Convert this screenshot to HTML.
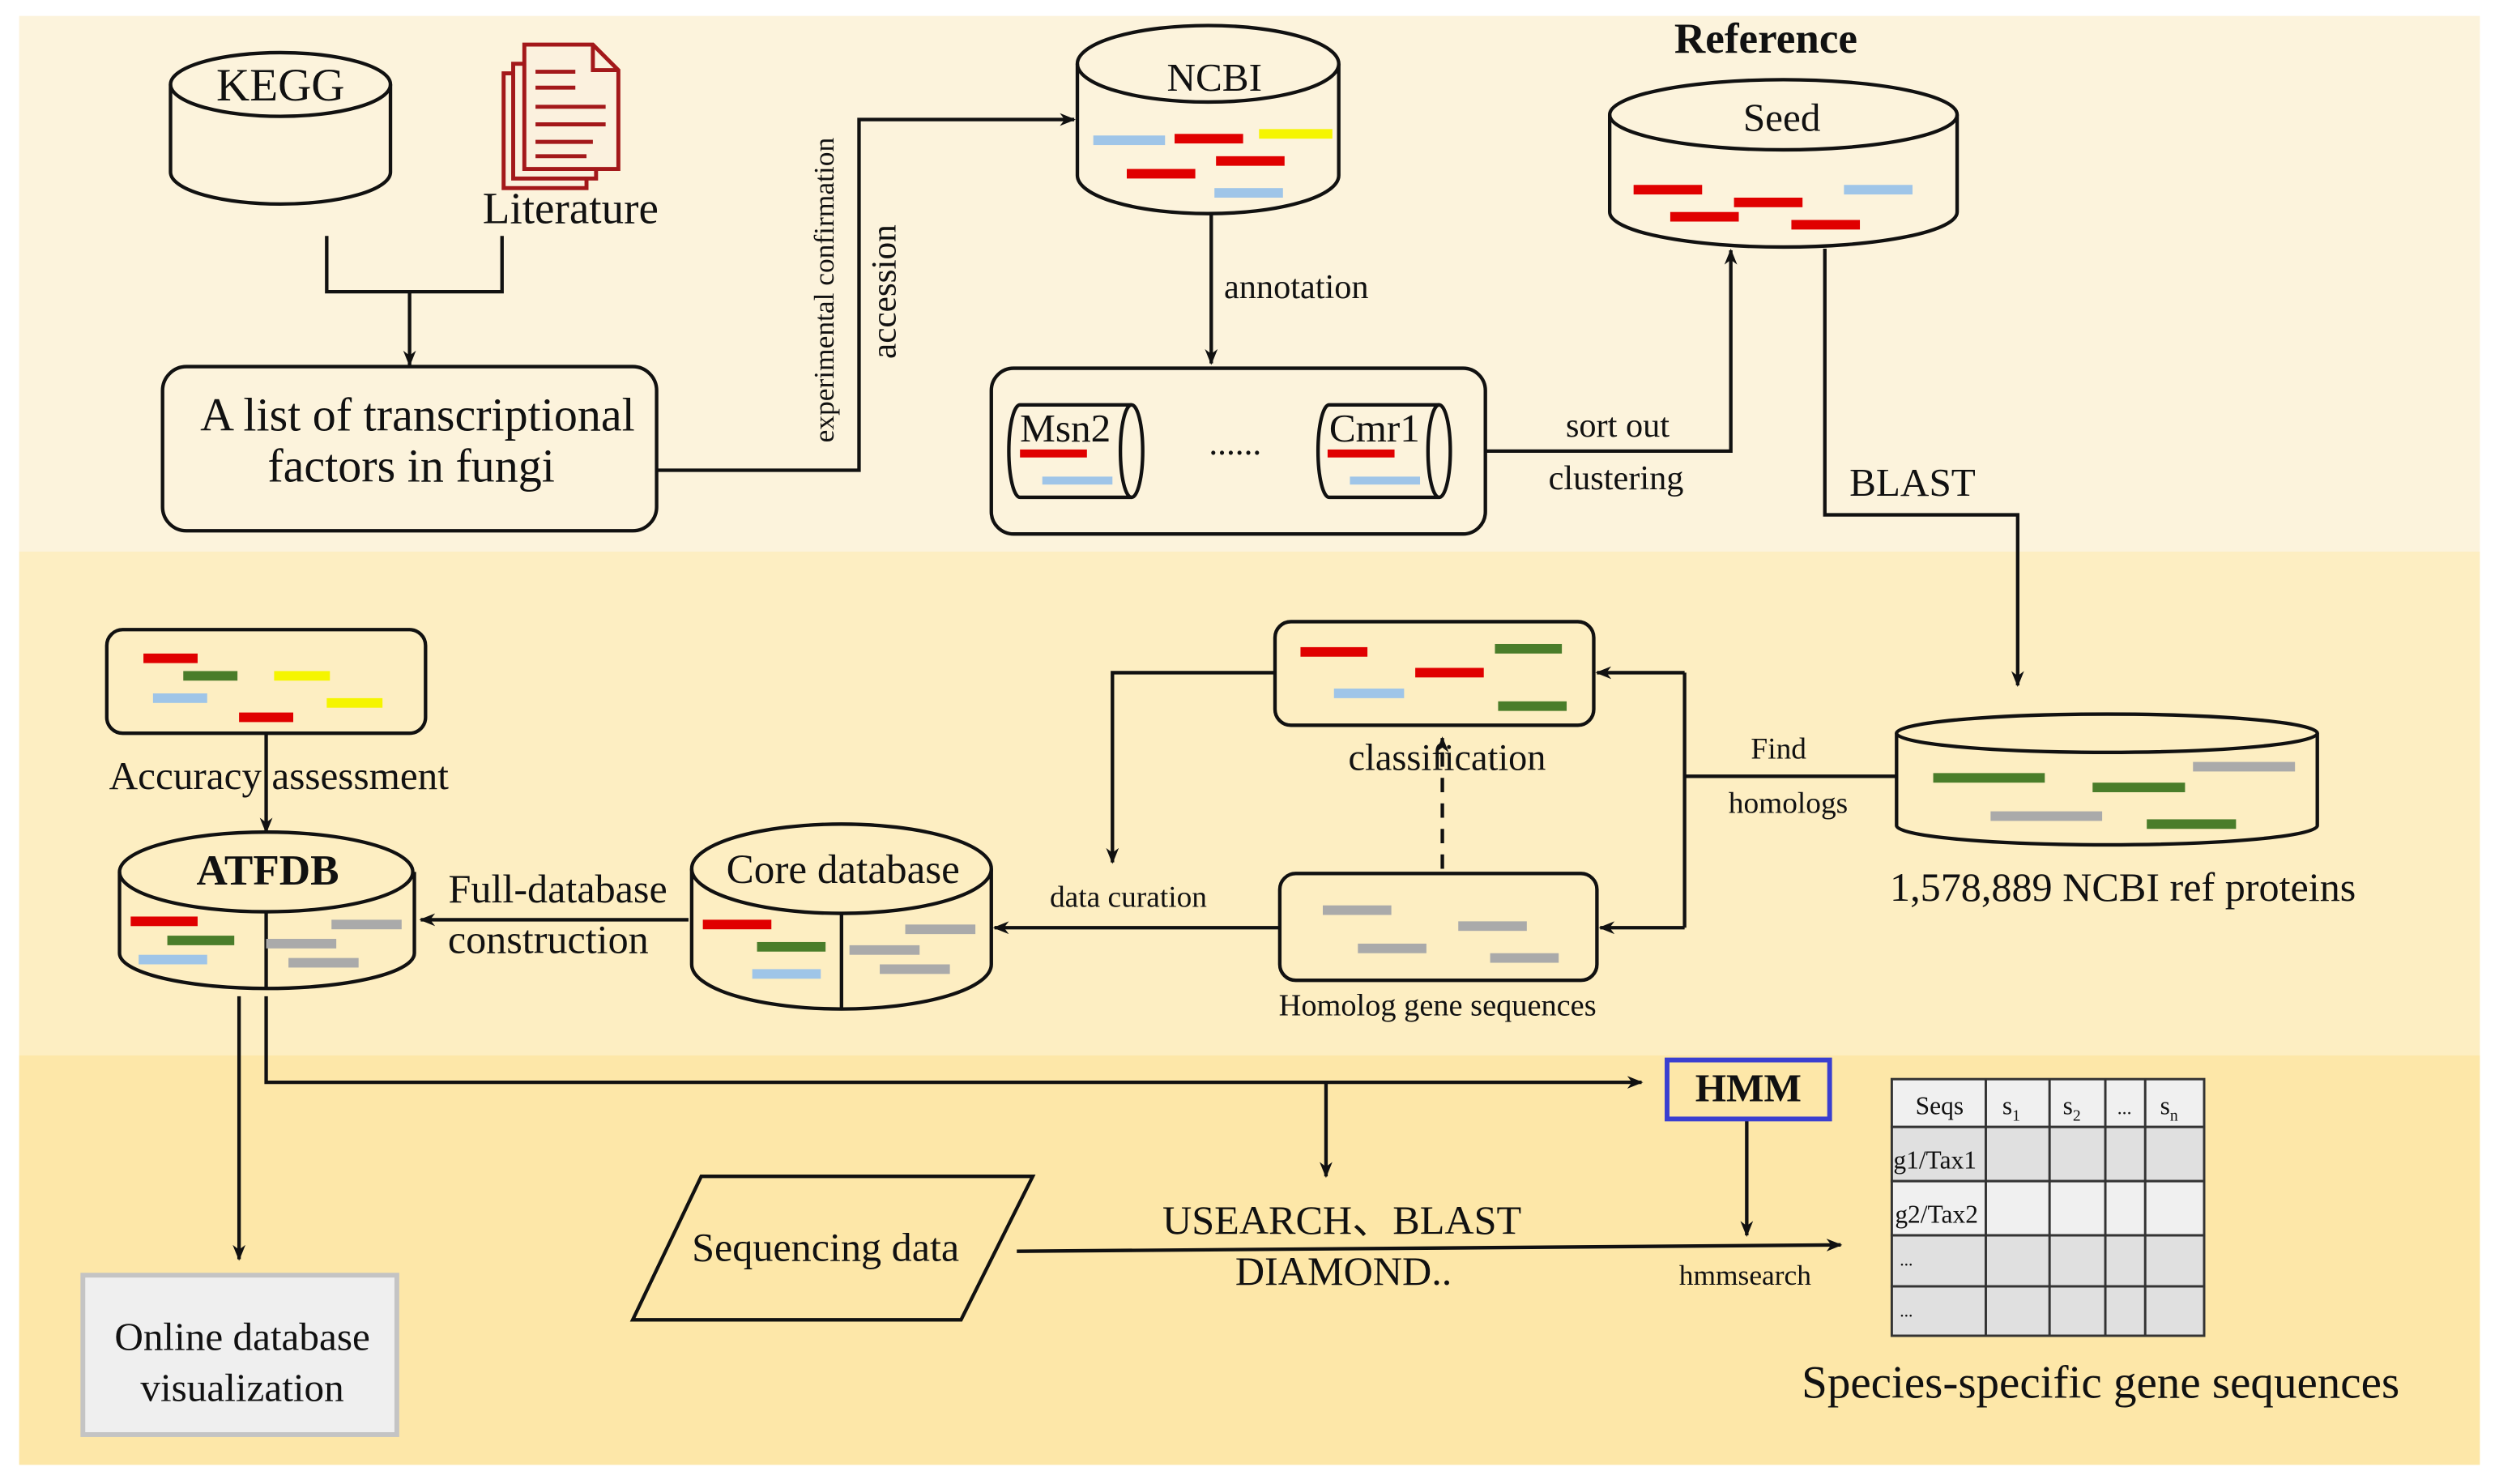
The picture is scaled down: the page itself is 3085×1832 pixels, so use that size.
<!DOCTYPE html>
<html><head><meta charset="utf-8"><style>
html,body{margin:0;padding:0;background:#fff}
svg{display:block}
text{font-family:"Liberation Serif",serif;fill:#111}
</style></head><body>
<svg width="3085" height="1832" viewBox="0 0 1568 931" preserveAspectRatio="none" xmlns="http://www.w3.org/2000/svg">
<defs>
<marker id="a" markerWidth="10" markerHeight="10" refX="9" refY="5" orient="auto" markerUnits="userSpaceOnUse"><path d="M0,1 L10,5 L0,9 L3,5 z" fill="#111"/></marker>
</defs>
<rect x="0" y="0" width="1568" height="931" fill="#fff"/>
<rect x="12" y="10" width="1544" height="336" fill="#fcf3dc"/>
<rect x="12" y="346" width="1544" height="316" fill="#fdeec2"/>
<rect x="12" y="662" width="1544" height="257" fill="#fde7a8"/>
<g stroke="#111" stroke-width="2.2" fill="none">
<path d="M107,53 V108 A69,20 0 0 0 245,108 V53"/>
<ellipse cx="176" cy="53" rx="69" ry="20"/>
<path d="M205,148 V183 H315 V148"/>
<path d="M257,183 V229" marker-end="url(#a)"/>
<rect x="102" y="230" width="310" height="103" rx="15"/>
<path d="M412,295 H539 V75 H674" marker-end="url(#a)"/>
<path d="M676,40 V110 A82,24 0 0 0 840,110 V40"/>
<ellipse cx="758" cy="40" rx="82" ry="24"/>
<path d="M760,134 V228" marker-end="url(#a)"/>
<rect x="622" y="231" width="310" height="104" rx="14"/>
<path d="M640,254 H710 A7,29 0 0 1 710,312 H640 A7,29 0 0 1 640,254 Z"/>
<path d="M710,254 A7,29 0 0 0 710,312"/>
<path d="M834,254 H903 A7,29 0 0 1 903,312 H834 A7,29 0 0 1 834,254 Z"/>
<path d="M903,254 A7,29 0 0 0 903,312"/>
<path d="M932,283 H1086 V157" marker-end="url(#a)"/>
<path d="M1010,72 V133 A109,22 0 0 0 1228,133 V72"/>
<ellipse cx="1119" cy="72" rx="109" ry="22"/>
<path d="M1145,156 V323 H1266 V430" marker-end="url(#a)"/>
<path d="M1190,460 V518 A132,12 0 0 0 1454,518 V460"/>
<ellipse cx="1322" cy="460" rx="132" ry="12"/>
<path d="M1190,487 H1057"/>
<path d="M1057,422 V582"/>
<path d="M1057,422 H1002" marker-end="url(#a)"/>
<path d="M1057,582 H1004" marker-end="url(#a)"/>
<rect x="800" y="390" width="200" height="65" rx="10"/>
<rect x="803" y="548" width="199" height="67" rx="10"/>
<path d="M905,545 V463" stroke-dasharray="9,7" marker-end="url(#a)"/>
<path d="M800,422 H698 V541" marker-end="url(#a)"/>
<path d="M803,582 H624" marker-end="url(#a)"/>
<path d="M434,545 V605 A94,28 0 0 0 622,605 V545"/>
<ellipse cx="528" cy="545" rx="94" ry="28"/>
<path d="M528,573 V632"/>
<path d="M432,577 H264" marker-end="url(#a)"/>
<path d="M75,547 V598 A92,22 0 0 0 260,598 V547"/>
<ellipse cx="167" cy="547" rx="92" ry="25"/>
<path d="M167,572 V620"/>
<rect x="67" y="395" width="200" height="65" rx="10"/>
<path d="M167,460 V522" marker-end="url(#a)"/>
<path d="M150,625 V790" marker-end="url(#a)"/>
<path d="M167,625 V679 H1030" marker-end="url(#a)"/>
<path d="M832,679 V738" marker-end="url(#a)"/>
<path d="M1096,703 V775" marker-end="url(#a)"/>
<path d="M440,738 H648 L603,828 H397 Z"/>
<path d="M638,785 L1155,781" marker-end="url(#a)"/>
</g>
<g stroke="#a3181a" stroke-width="2.5" fill="#fbf1de">
<rect x="316" y="46" width="52" height="72"/>
<rect x="322" y="40" width="52" height="72"/>
<path d="M329,28 H372 L388,44 V106 H329 Z"/>
<path d="M372,28 V44 H388" fill="none"/>
</g>
<g stroke="#a3181a" stroke-width="2.5">
<line x1="336" y1="45" x2="361" y2="45"/><line x1="336" y1="55" x2="361" y2="55"/>
<line x1="336" y1="67" x2="380" y2="67"/><line x1="336" y1="78" x2="380" y2="78"/>
<line x1="336" y1="89" x2="372" y2="89"/><line x1="336" y1="98" x2="368" y2="98"/>
</g>
<g>
<rect x="686" y="85" width="45" height="6" fill="#9fc5e8"/><rect x="737" y="84" width="43" height="6" fill="#e00000"/><rect x="790" y="81" width="46" height="6" fill="#f5f500"/>
<rect x="763" y="98" width="43" height="6" fill="#e00000"/><rect x="707" y="106" width="43" height="6" fill="#e00000"/><rect x="762" y="118" width="43" height="6" fill="#9fc5e8"/>
<rect x="640" y="282" width="42" height="5" fill="#e00000"/><rect x="654" y="299" width="44" height="5" fill="#9fc5e8"/>
<rect x="833" y="282" width="42" height="5" fill="#e00000"/><rect x="847" y="299" width="44" height="5" fill="#9fc5e8"/>
<rect x="1025" y="116" width="43" height="6" fill="#e00000"/><rect x="1048" y="133" width="43" height="6" fill="#e00000"/><rect x="1088" y="124" width="43" height="6" fill="#e00000"/><rect x="1124" y="138" width="43" height="6" fill="#e00000"/><rect x="1157" y="116" width="43" height="6" fill="#9fc5e8"/>
<rect x="90" y="410" width="34" height="6" fill="#e00000"/><rect x="115" y="421" width="34" height="6" fill="#4a7d2a"/><rect x="172" y="421" width="35" height="6" fill="#f5f500"/>
<rect x="96" y="435" width="34" height="6" fill="#9fc5e8"/><rect x="205" y="438" width="35" height="6" fill="#f5f500"/><rect x="150" y="447" width="34" height="6" fill="#e00000"/>
<rect x="816" y="406" width="42" height="6" fill="#e00000"/><rect x="938" y="404" width="42" height="6" fill="#4a7d2a"/><rect x="888" y="419" width="43" height="6" fill="#e00000"/><rect x="837" y="432" width="44" height="6" fill="#9fc5e8"/><rect x="940" y="440" width="43" height="6" fill="#4a7d2a"/>
<rect x="830" y="568" width="43" height="6" fill="#aaa"/><rect x="915" y="578" width="43" height="6" fill="#aaa"/><rect x="852" y="592" width="43" height="6" fill="#aaa"/><rect x="935" y="598" width="43" height="6" fill="#aaa"/>
<rect x="1213" y="485" width="70" height="6" fill="#4a7d2a"/><rect x="1313" y="491" width="58" height="6" fill="#4a7d2a"/><rect x="1376" y="478" width="64" height="6" fill="#aaa"/><rect x="1249" y="509" width="70" height="6" fill="#aaa"/><rect x="1347" y="514" width="56" height="6" fill="#4a7d2a"/>
<rect x="441" y="577" width="43" height="6" fill="#e00000"/><rect x="475" y="591" width="43" height="6" fill="#4a7d2a"/><rect x="472" y="608" width="43" height="6" fill="#9fc5e8"/>
<rect x="568" y="580" width="44" height="6" fill="#aaa"/><rect x="533" y="593" width="44" height="6" fill="#aaa"/><rect x="552" y="605" width="44" height="6" fill="#aaa"/>
<rect x="82" y="575" width="42" height="6" fill="#e00000"/><rect x="105" y="587" width="42" height="6" fill="#4a7d2a"/><rect x="87" y="599" width="43" height="6" fill="#9fc5e8"/>
<rect x="208" y="577" width="44" height="6" fill="#aaa"/><rect x="167" y="589" width="44" height="6" fill="#aaa"/><rect x="181" y="601" width="44" height="6" fill="#aaa"/>
</g>
<rect x="52" y="800" width="197" height="100" fill="#efefef" stroke="#c4c4c4" stroke-width="3"/>
<rect x="1046" y="665" width="102" height="37" fill="#fde7a8" stroke="#3a3fd0" stroke-width="3"/>
<g stroke="#333" stroke-width="1.5">
<rect x="1187" y="677" width="196" height="30" fill="#f0f0f0"/>
<rect x="1187" y="707" width="196" height="34" fill="#e0e0e0"/>
<rect x="1187" y="741" width="196" height="34" fill="#f0f0f0"/>
<rect x="1187" y="775" width="196" height="32" fill="#e0e0e0"/>
<rect x="1187" y="807" width="196" height="31" fill="#e0e0e0"/>
<line x1="1246" y1="677" x2="1246" y2="838"/><line x1="1286" y1="677" x2="1286" y2="838"/><line x1="1321" y1="677" x2="1321" y2="838"/><line x1="1346" y1="677" x2="1346" y2="838"/>
</g>
<text x="176" y="63" font-size="29" text-anchor="middle">KEGG</text>
<text x="358" y="140" font-size="28" text-anchor="middle">Literature</text>
<text x="262" y="270" font-size="29.5" text-anchor="middle">A list of transcriptional</text>
<text x="258" y="302" font-size="29.5" text-anchor="middle">factors in fungi</text>
<text transform="translate(523,182) rotate(-90)" font-size="18" text-anchor="middle">experimental confirmation</text>
<text transform="translate(562,183) rotate(-90)" font-size="22" text-anchor="middle">accession</text>
<text x="762" y="57" font-size="25" text-anchor="middle">NCBI</text>
<text x="768" y="187" font-size="21.5">annotation</text>
<text x="640" y="277" font-size="25">Msn2</text>
<text x="834" y="277" font-size="25">Cmr1</text>
<text x="775" y="285" font-size="22" text-anchor="middle">......</text>
<text x="1015" y="274" font-size="21.5" text-anchor="middle">sort out</text>
<text x="1014" y="307" font-size="21.5" text-anchor="middle">clustering</text>
<text x="1108" y="33" font-size="27" font-weight="bold" text-anchor="middle">Reference</text>
<text x="1118" y="82" font-size="25" text-anchor="middle">Seed</text>
<text x="1200" y="311" font-size="25" text-anchor="middle">BLAST</text>
<text x="1116" y="476" font-size="19" text-anchor="middle">Find</text>
<text x="1122" y="510" font-size="19" text-anchor="middle">homologs</text>
<text x="1332" y="565" font-size="25.5" text-anchor="middle">1,578,889 NCBI ref proteins</text>
<text x="908" y="483" font-size="23.5" text-anchor="middle">classification</text>
<text x="902" y="637" font-size="19.5" text-anchor="middle">Homolog gene sequences</text>
<text x="708" y="569" font-size="19" text-anchor="middle">data curation</text>
<text x="529" y="554" font-size="26" text-anchor="middle">Core database</text>
<text x="350" y="566" font-size="25.5" text-anchor="middle">Full-database</text>
<text x="344" y="598" font-size="25.5" text-anchor="middle">construction</text>
<text x="168" y="555" font-size="27" font-weight="bold" text-anchor="middle">ATFDB</text>
<text x="175" y="495" font-size="25" text-anchor="middle">Accuracy assessment</text>
<text x="152" y="847" font-size="25" text-anchor="middle">Online database</text>
<text x="152" y="879" font-size="25" text-anchor="middle">visualization</text>
<text x="1097" y="691" font-size="25" font-weight="bold" text-anchor="middle">HMM</text>
<text x="518" y="791" font-size="25.5" text-anchor="middle">Sequencing data</text>
<text x="842" y="774" font-size="25.5" text-anchor="middle">USEARCH、BLAST</text>
<text x="843" y="806" font-size="25.5" text-anchor="middle">DIAMOND..</text>
<text x="1095" y="806" font-size="18" text-anchor="middle">hmmsearch</text>
<text x="1217" y="699" font-size="16" text-anchor="middle">Seqs</text>
<text x="1262" y="699" font-size="16" text-anchor="middle">s<tspan font-size="10" dy="4">1</tspan></text>
<text x="1300" y="699" font-size="16" text-anchor="middle">s<tspan font-size="10" dy="4">2</tspan></text>
<text x="1333" y="699" font-size="12" text-anchor="middle" fill="#888">...</text>
<text x="1361" y="699" font-size="16" text-anchor="middle">s<tspan font-size="10" dy="4">n</tspan></text>
<text x="1188" y="733" font-size="16">g1/Tax1</text>
<text x="1189" y="767" font-size="16">g2/Tax2</text>
<text x="1192" y="794" font-size="11" fill="#666">...</text>
<text x="1192" y="826" font-size="11" fill="#666">...</text>
<text x="1318" y="877" font-size="29" text-anchor="middle">Species-specific gene sequences</text>
</svg>
</body></html>
